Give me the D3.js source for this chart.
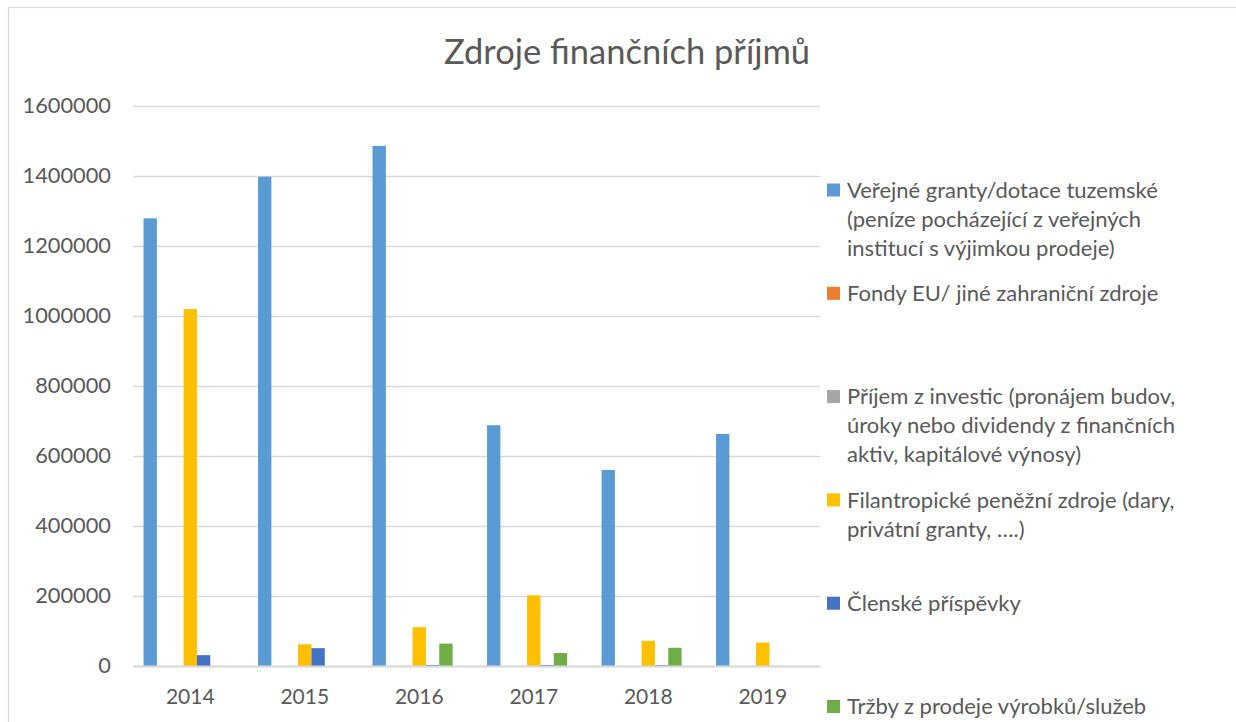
<!DOCTYPE html>
<html>
<head>
<meta charset="utf-8">
<script src="https://cdn.jsdelivr.net/npm/d3@7"></script>
<style>
  html, body { margin: 0; padding: 0; background: #ffffff; }
  svg { display: block; }
  text { font-family: Lato, "Open Sans", sans-serif; fill: #595959; }
</style>
</head>
<body>
<div id="chart"></div>
<script>
// years on the x axis
var years = ["2014", "2015", "2016", "2017", "2018", "2019"];

// series names (legend), line breaks as in the original legend
var seriesNames = [
  "Veřejné granty/dotace tuzemské\n(peníze pocházející z veřejných\ninstitucí s výjimkou prodeje)",
  "Fondy EU/ jiné zahraniční zdroje",
  "Příjem z investic (pronájem budov,\núroky nebo dividendy z finančních\naktiv, kapitálové výnosy)",
  "Filantropické peněžní zdroje (dary,\nprivátní granty, ….)",
  "Členské příspěvky",
  "Tržby z prodeje výrobků/služeb"
];

var seriesColors = ["#5B9BD5", "#ED7D31", "#A5A5A5", "#FFC000", "#4472C4", "#70AD47"];

// values per series, one per year
var verejneGranty = [1279000, 1398000, 1486000, 688000, 560000, 663000];
var fondyEU       = [0, 0, 0, 0, 0, 0];
var prijemInvestic = [0, 0, 0, 0, 0, 0];
var filantropicke = [1020000, 62000, 111000, 202000, 72000, 67000];
var clenske       = [31000, 51000, 3000, 3000, 2500, 0];
var trzby         = [0, 0, 64000, 37000, 52000, 0];

var seriesValues = [verejneGranty, fondyEU, prijemInvestic, filantropicke, clenske, trzby];

var yTicks = [0, 200000, 400000, 600000, 800000, 1000000, 1200000, 1400000, 1600000];

// the original chart reserves a 7th (empty) slot in each group
var slotCount = 7;

var width = 1236, height = 722;
var plot = { left: 133, right: 820, top: 106, bottom: 666 };

var svg = d3.select("#chart").append("svg")
    .attr("width", width)
    .attr("height", height);

// chart border
svg.append("rect")
    .attr("x", 8.5).attr("y", 7.5)
    .attr("width", 1240).attr("height", 730)
    .attr("fill", "none")
    .attr("stroke", "#d9d9d9")
    .attr("stroke-width", 1.2);

// title
svg.append("text")
    .attr("x", 627).attr("y", 64)
    .attr("text-anchor", "middle")
    .style("font-size", "34.5px")
    .text("Zdroje finančních příjmů");

var x0 = d3.scaleBand()
    .domain(years)
    .range([plot.left, plot.right])
    .paddingInner(0)
    .paddingOuter(0);

var x1 = d3.scaleBand()
    .domain(d3.range(slotCount))
    .range([0, x0.bandwidth()])
    .paddingOuter(0.79)
    .paddingInner(0);

var y = d3.scaleLinear()
    .domain([0, 1600000])
    .range([plot.bottom, plot.top]);

// gridlines + y labels
var yAxis = d3.axisLeft(y)
    .tickValues(yTicks)
    .tickSize(-(plot.right - plot.left))
    .tickPadding(22)
    .tickFormat(d3.format("d"));

var gy = svg.append("g")
    .attr("transform", "translate(" + plot.left + ",0)")
    .call(yAxis);
gy.select(".domain").remove();
gy.selectAll(".tick line")
    .attr("stroke", "#d9d9d9")
    .attr("stroke-width", 1.5);
gy.selectAll(".tick text")
    .style("font-size", "21.8px")
    .attr("fill", "#595959");

// bars
var groups = svg.append("g").selectAll("g")
    .data(years)
    .join("g")
    .attr("transform", function(d) { return "translate(" + x0(d) + ",0)"; });

groups.selectAll("rect")
    .data(function(d, i) {
      return seriesValues.map(function(vals, s) {
        return { slot: s, value: vals[i], color: seriesColors[s] };
      });
    })
    .join("rect")
    .attr("x", function(d) { return x1(d.slot); })
    .attr("width", x1.bandwidth())
    .attr("y", function(d) { return y(d.value); })
    .attr("height", function(d) { return y(0) - y(d.value); })
    .attr("fill", function(d) { return d.color; });

// x axis
var xAxis = d3.axisBottom(x0)
    .tickSize(0)
    .tickPadding(23);

var gx = svg.append("g")
    .attr("transform", "translate(0," + plot.bottom + ")")
    .call(xAxis);
gx.select(".domain")
    .attr("stroke", "#d9d9d9")
    .attr("stroke-width", 2);
gx.selectAll(".tick text")
    .style("font-size", "21px")
    .attr("fill", "#595959");

// legend
var legendTop = 190, legendStep = 103.3, lineHeight = 29;

var legend = svg.append("g").selectAll("g")
    .data(seriesNames)
    .join("g")
    .attr("transform", function(d, i) { return "translate(827," + (legendTop + i * legendStep) + ")"; });

legend.append("rect")
    .attr("x", 0).attr("y", -6.5)
    .attr("width", 13).attr("height", 13)
    .attr("fill", function(d, i) { return seriesColors[i]; });

legend.append("text")
    .attr("x", 20)
    .attr("y", 0)
    .style("font-size", "22px")
    .selectAll("tspan")
    .data(function(d) { return d.split("\n"); })
    .join("tspan")
    .attr("x", 20)
    .attr("y", function(d, i) { return i * lineHeight; })
    .attr("dy", "0.35em")
    .text(function(d) { return d; });
</script>
</body>
</html>
